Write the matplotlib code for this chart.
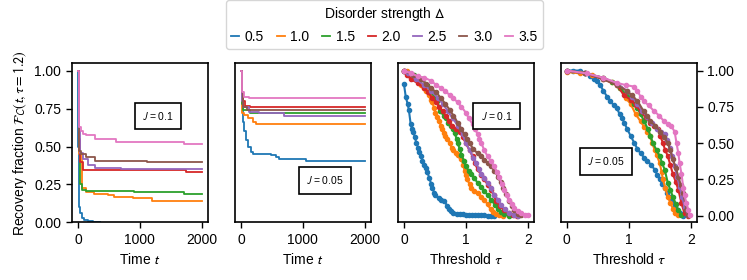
import numpy as np
import matplotlib
matplotlib.use("Agg")
import matplotlib.pyplot as plt

plt.rcParams['font.family'] = ['Liberation Sans', 'DejaVu Sans']
plt.rcParams['mathtext.fontset'] = 'stixsans'
plt.rcParams['font.size'] = 10

deltas = ['0.5', '1.0', '1.5', '2.0', '2.5', '3.0', '3.5']
colors = ['tab:blue', 'tab:orange', 'tab:green', 'tab:red', 'tab:purple', 'tab:brown', 'tab:pink']

# recovery fraction vs time, J = 0.1 (step curves)
timeJ1 = [
	[0, 5, 15, 25, 40, 70, 100, 160, 250, 350],
	[0, 10, 64, 134, 267, 481, 588, 882, 1203, 2000],
	[0, 10, 40, 65, 130, 910, 1710, 2000],
	[0, 10, 37, 80, 1740, 2000],
	[0, 10, 30, 80, 160, 270, 700, 2000],
	[0, 10, 25, 50, 130, 270, 1120, 2000],
	[0, 10, 25, 50, 80, 130, 270, 620, 1710, 2000],
]
fracJ1 = [
	[1.0, 0.5, 0.2, 0.1, 0.06, 0.03, 0.015, 0.01, 0.005, 0.0],
	[1.0, 0.45, 0.224, 0.202, 0.19, 0.18, 0.169, 0.158, 0.14, 0.14],
	[1.0, 0.5, 0.25, 0.215, 0.21, 0.2, 0.19, 0.19],
	[1.0, 0.55, 0.4, 0.345, 0.33, 0.33],
	[1.0, 0.6, 0.46, 0.42, 0.38, 0.36, 0.35, 0.35],
	[1.0, 0.62, 0.47, 0.45, 0.43, 0.405, 0.395, 0.395],
	[1.0, 0.72, 0.63, 0.6, 0.585, 0.575, 0.55, 0.53, 0.52, 0.52],
]

# recovery fraction vs time, J = 0.05
timeJ05 = [
	[0, 10, 27, 54, 80, 107, 161, 188, 480, 563, 617, 1046, 2000],
	[0, 10, 54, 107, 188, 240, 2000],
	[0, 10, 40, 150, 300, 2000],
	[0, 10, 30, 60, 150, 2000],
	[0, 10, 40, 130, 300, 700, 2000],
	[0, 10, 40, 100, 2000],
	[0, 10, 50, 130, 2000],
]
fracJ05 = [
	[1.0, 0.8, 0.66, 0.6, 0.543, 0.5, 0.466, 0.449, 0.444, 0.433, 0.418, 0.405, 0.405],
	[1.0, 0.72, 0.708, 0.686, 0.664, 0.646, 0.646],
	[1.0, 0.78, 0.74, 0.725, 0.72, 0.72],
	[1.0, 0.84, 0.8, 0.77, 0.76, 0.76],
	[1.0, 0.8, 0.76, 0.73, 0.72, 0.70, 0.70],
	[1.0, 0.86, 0.76, 0.74, 0.74],
	[1.0, 0.86, 0.83, 0.818, 0.818],
]

# recovery fraction vs threshold, J = 0.1
tauJ1 = [
	[0, 0.03, 0.06, 0.08, 0.11, 0.13, 0.15, 0.18, 0.2, 0.23, 0.25, 0.28, 0.3, 0.33, 0.36, 0.38, 0.41, 0.44, 0.46, 0.49, 0.51, 0.56, 0.6, 0.65, 0.7, 0.73, 0.76, 0.8, 0.85, 0.9, 0.95, 1.0, 1.05, 1.1, 1.15, 1.2, 1.25, 1.3, 1.35, 1.4, 1.46],
	[0, 0.05, 0.11, 0.16, 0.22, 0.27, 0.32, 0.36, 0.4, 0.43, 0.46, 0.49, 0.51, 0.54, 0.57, 0.6, 0.62, 0.65, 0.67, 0.7, 0.74, 0.77, 0.8, 0.84, 0.87, 0.9, 0.93, 0.96, 0.98, 1.0, 1.02, 1.06, 1.09, 1.14, 1.19, 1.25, 1.3, 1.35, 1.4, 1.44, 1.48, 1.54, 1.6],
	[0, 0.16, 0.3, 0.37, 0.43, 0.49, 0.54, 0.59, 0.64, 0.68, 0.72, 0.76, 0.79, 0.82, 0.85, 0.87, 0.9, 0.93, 0.97, 1.0, 1.05, 1.09, 1.14, 1.19, 1.25, 1.3, 1.36, 1.41, 1.47, 1.52, 1.57, 1.62, 1.7],
	[0, 0.05, 0.11, 0.22, 0.32, 0.39, 0.46, 0.52, 0.57, 0.63, 0.68, 0.73, 0.78, 0.84, 0.9, 0.95, 1.0, 1.06, 1.11, 1.15, 1.19, 1.25, 1.3, 1.36, 1.41, 1.45, 1.49, 1.55, 1.62, 1.69, 1.76, 1.82],
	[0, 0.06, 0.2, 0.33, 0.44, 0.55, 0.63, 0.71, 0.79, 0.87, 0.95, 1.0, 1.06, 1.12, 1.17, 1.21, 1.25, 1.3, 1.35, 1.4, 1.46, 1.52, 1.57, 1.63, 1.7, 1.77, 1.84],
	[0, 0.14, 0.28, 0.36, 0.44, 0.52, 0.6, 0.67, 0.74, 0.8, 0.87, 0.92, 0.98, 1.02, 1.06, 1.12, 1.19, 1.25, 1.3, 1.36, 1.41, 1.46, 1.52, 1.56, 1.6, 1.65, 1.7, 1.74, 1.78, 1.84, 1.89],
	[0, 0.12, 0.23, 0.33, 0.44, 0.52, 0.6, 0.67, 0.74, 0.8, 0.87, 0.93, 1.0, 1.05, 1.11, 1.15, 1.19, 1.22, 1.25, 1.3, 1.35, 1.4, 1.46, 1.5, 1.54, 1.58, 1.62, 1.66, 1.7, 1.74, 1.78, 1.84, 1.89, 1.95, 2.0],
]
threshJ1 = [
	[0.91, 0.82, 0.77, 0.73, 0.63, 0.6, 0.58, 0.54, 0.5, 0.47, 0.44, 0.41, 0.38, 0.35, 0.33, 0.3, 0.26, 0.22, 0.19, 0.16, 0.14, 0.12, 0.11, 0.1, 0.07, 0.05, 0.03, 0.02, 0.015, 0.012, 0.01, 0.008, 0.005, 0.004, 0.004, 0.003, 0.002, 0.002, 0.001, 0.001, 0.0],
	[1.0, 1.0, 0.97, 0.95, 0.93, 0.9, 0.88, 0.86, 0.83, 0.8, 0.78, 0.74, 0.71, 0.68, 0.65, 0.62, 0.6, 0.57, 0.55, 0.53, 0.5, 0.47, 0.45, 0.43, 0.42, 0.41, 0.39, 0.35, 0.31, 0.28, 0.25, 0.22, 0.19, 0.17, 0.155, 0.13, 0.11, 0.08, 0.045, 0.025, 0.01, 0.004, 0.0],
	[1.0, 0.97, 0.94, 0.9, 0.86, 0.82, 0.79, 0.72, 0.69, 0.67, 0.64, 0.62, 0.6, 0.57, 0.53, 0.5, 0.46, 0.42, 0.38, 0.34, 0.31, 0.29, 0.26, 0.225, 0.2, 0.168, 0.14, 0.11, 0.075, 0.045, 0.025, 0.01, 0.0],
	[1.0, 0.97, 0.94, 0.915, 0.88, 0.85, 0.81, 0.78, 0.75, 0.72, 0.685, 0.65, 0.62, 0.6, 0.58, 0.54, 0.5, 0.45, 0.41, 0.36, 0.32, 0.28, 0.25, 0.21, 0.18, 0.14, 0.1, 0.07, 0.04, 0.02, 0.007, 0.0],
	[1.0, 0.98, 0.94, 0.9, 0.86, 0.81, 0.77, 0.72, 0.67, 0.62, 0.56, 0.5, 0.455, 0.4, 0.36, 0.32, 0.29, 0.26, 0.225, 0.19, 0.145, 0.11, 0.076, 0.045, 0.018, 0.006, 0.0],
	[1.0, 0.97, 0.94, 0.91, 0.88, 0.85, 0.81, 0.77, 0.73, 0.69, 0.64, 0.6, 0.56, 0.53, 0.5, 0.46, 0.43, 0.41, 0.386, 0.36, 0.34, 0.31, 0.27, 0.23, 0.19, 0.15, 0.1, 0.07, 0.04, 0.015, 0.005],
	[1.0, 0.98, 0.96, 0.95, 0.93, 0.9, 0.88, 0.86, 0.83, 0.81, 0.78, 0.75, 0.71, 0.67, 0.63, 0.6, 0.56, 0.53, 0.5, 0.45, 0.41, 0.38, 0.34, 0.3, 0.27, 0.22, 0.18, 0.14, 0.11, 0.08, 0.053, 0.03, 0.018, 0.008, 0.002],
]

# recovery fraction vs threshold, J = 0.05
tauJ05 = [
	[0, 0.1, 0.22, 0.3, 0.38, 0.44, 0.49, 0.54, 0.59, 0.65, 0.7, 0.76, 0.81, 0.85, 0.89, 0.93, 0.97, 1.03, 1.09, 1.14, 1.19, 1.25, 1.3, 1.36, 1.42, 1.46, 1.5, 1.54, 1.58, 1.62, 1.66, 1.7, 1.74, 1.78, 1.82, 1.88],
	[0, 0.22, 0.4, 0.59, 0.73, 0.86, 0.95, 1.03, 1.11, 1.19, 1.25, 1.3, 1.34, 1.38, 1.42, 1.45, 1.5, 1.53, 1.55, 1.59, 1.63, 1.67, 1.71, 1.75, 1.8],
	[0, 0.3, 0.59, 0.73, 0.86, 0.97, 1.03, 1.08, 1.14, 1.19, 1.25, 1.31, 1.35, 1.39, 1.45, 1.5, 1.54, 1.58, 1.63, 1.67, 1.71, 1.76, 1.8, 1.85],
	[0, 0.3, 0.59, 0.81, 0.92, 1.03, 1.11, 1.19, 1.27, 1.35, 1.41, 1.47, 1.51, 1.55, 1.59, 1.63, 1.67, 1.71, 1.76, 1.8, 1.85, 1.9, 1.95],
	[0, 0.3, 0.59, 0.81, 0.97, 1.05, 1.14, 1.22, 1.3, 1.38, 1.46, 1.52, 1.58, 1.62, 1.66, 1.7, 1.74, 1.78, 1.82, 1.86, 1.9, 1.95],
	[0, 0.3, 0.59, 0.81, 0.97, 1.05, 1.14, 1.24, 1.3, 1.35, 1.43, 1.51, 1.57, 1.63, 1.67, 1.71, 1.76, 1.8, 1.84, 1.88, 1.93, 1.96],
	[0, 0.32, 0.59, 0.81, 0.95, 1.08, 1.14, 1.19, 1.24, 1.32, 1.41, 1.49, 1.57, 1.63, 1.68, 1.74, 1.77, 1.8, 1.82, 1.85, 1.88, 1.9, 1.93, 1.96, 1.98],
]
threshJ05 = [
	[1.0, 1.0, 1.0, 0.98, 0.96, 0.94, 0.93, 0.9, 0.86, 0.82, 0.79, 0.76, 0.74, 0.7, 0.67, 0.64, 0.6, 0.55, 0.5, 0.46, 0.43, 0.4, 0.38, 0.35, 0.317, 0.28, 0.25, 0.22, 0.19, 0.16, 0.13, 0.1, 0.065, 0.035, 0.016, 0.0],
	[0.99, 0.98, 0.97, 0.95, 0.92, 0.88, 0.81, 0.77, 0.7, 0.65, 0.61, 0.58, 0.55, 0.5, 0.45, 0.42, 0.36, 0.3, 0.25, 0.19, 0.13, 0.09, 0.05, 0.02, 0.005],
	[1.0, 0.98, 0.95, 0.92, 0.88, 0.83, 0.8, 0.77, 0.74, 0.7, 0.65, 0.595, 0.55, 0.5, 0.45, 0.41, 0.36, 0.317, 0.225, 0.18, 0.132, 0.08, 0.04, 0.005],
	[1.0, 0.98, 0.94, 0.9, 0.83, 0.8, 0.76, 0.72, 0.68, 0.64, 0.62, 0.595, 0.55, 0.5, 0.45, 0.41, 0.35, 0.29, 0.23, 0.18, 0.086, 0.016, 0.0],
	[1.0, 0.98, 0.95, 0.91, 0.86, 0.82, 0.77, 0.72, 0.68, 0.64, 0.6, 0.58, 0.56, 0.52, 0.47, 0.41, 0.34, 0.27, 0.2, 0.13, 0.063, 0.005],
	[1.0, 0.98, 0.94, 0.9, 0.86, 0.83, 0.79, 0.72, 0.69, 0.65, 0.62, 0.58, 0.54, 0.5, 0.45, 0.39, 0.33, 0.27, 0.21, 0.155, 0.04, 0.005],
	[1.0, 0.98, 0.95, 0.915, 0.9, 0.89, 0.86, 0.82, 0.79, 0.76, 0.72, 0.69, 0.65, 0.63, 0.62, 0.58, 0.5, 0.43, 0.36, 0.29, 0.19, 0.14, 0.086, 0.04, 0.005],
]

def styleAxes(ax):
	for s in ax.spines.values():
		s.set_linewidth(1.2)
	ax.tick_params(width=1.0, length=4)

def addLabel(ax, x, y, txt):
	ax.text(x, y, txt, transform=ax.transAxes, ha='center', va='center', fontsize=7.5,
		bbox=dict(boxstyle='square,pad=0.7', fc='white', ec='black', lw=1.2))

fig, axs = plt.subplots(1, 4, figsize=(7.47, 2.8), dpi=100)
fig.subplots_adjust(left=0.096, right=0.933, bottom=0.206, top=0.774, wspace=0.196)

handles = []
for i in range(7):
	h, = axs[0].step(timeJ1[i], fracJ1[i], where='post', color=colors[i], lw=1.3, label=deltas[i])
	handles.append(h)
	axs[1].step(timeJ05[i], fracJ05[i], where='post', color=colors[i], lw=1.3)
	axs[2].plot(tauJ1[i], threshJ1[i], '-o', color=colors[i], lw=1.5, ms=3)
	axs[3].plot(tauJ05[i], threshJ05[i], '-o', color=colors[i], lw=1.5, ms=3)

for ax in axs[:2]:
	ax.set_xlim(-100, 2100)
	ax.set_ylim(0, 1.05)
	ax.set_xticks([0, 1000, 2000])
	ax.set_xlabel('Time $t$')
for ax in axs[2:]:
	ax.set_xlim(-0.1, 2.1)
	ax.set_ylim(-0.045, 1.05)
	ax.set_xticks([0, 1, 2])
	ax.set_xlabel(r'Threshold $\tau$')
for ax in axs:
	ax.set_yticks([0, 0.25, 0.5, 0.75, 1.0])
	styleAxes(ax)

axs[0].set_ylabel(r'Recovery fraction $\mathcal{F}_C(t, \tau = 1.2)$')
axs[1].tick_params(left=False, labelleft=False)
axs[2].tick_params(left=False, labelleft=False)
axs[3].yaxis.tick_right()

addLabel(axs[0], 0.633, 0.668, '$J$ = 0.1')
addLabel(axs[1], 0.665, 0.264, '$J$ = 0.05')
addLabel(axs[2], 0.726, 0.668, '$J$ = 0.1')
addLabel(axs[3], 0.334, 0.384, '$J$ = 0.05')

fig.legend(handles=handles, loc='lower center', bbox_to_anchor=(0.5146, 0.80), ncol=7,
	title=r'Disorder strength $\Delta$', handlelength=0.6, handletextpad=0.4, columnspacing=0.9,
	fontsize=10, title_fontsize=10, borderpad=0.35)

fig.savefig('out.png', dpi=100)
